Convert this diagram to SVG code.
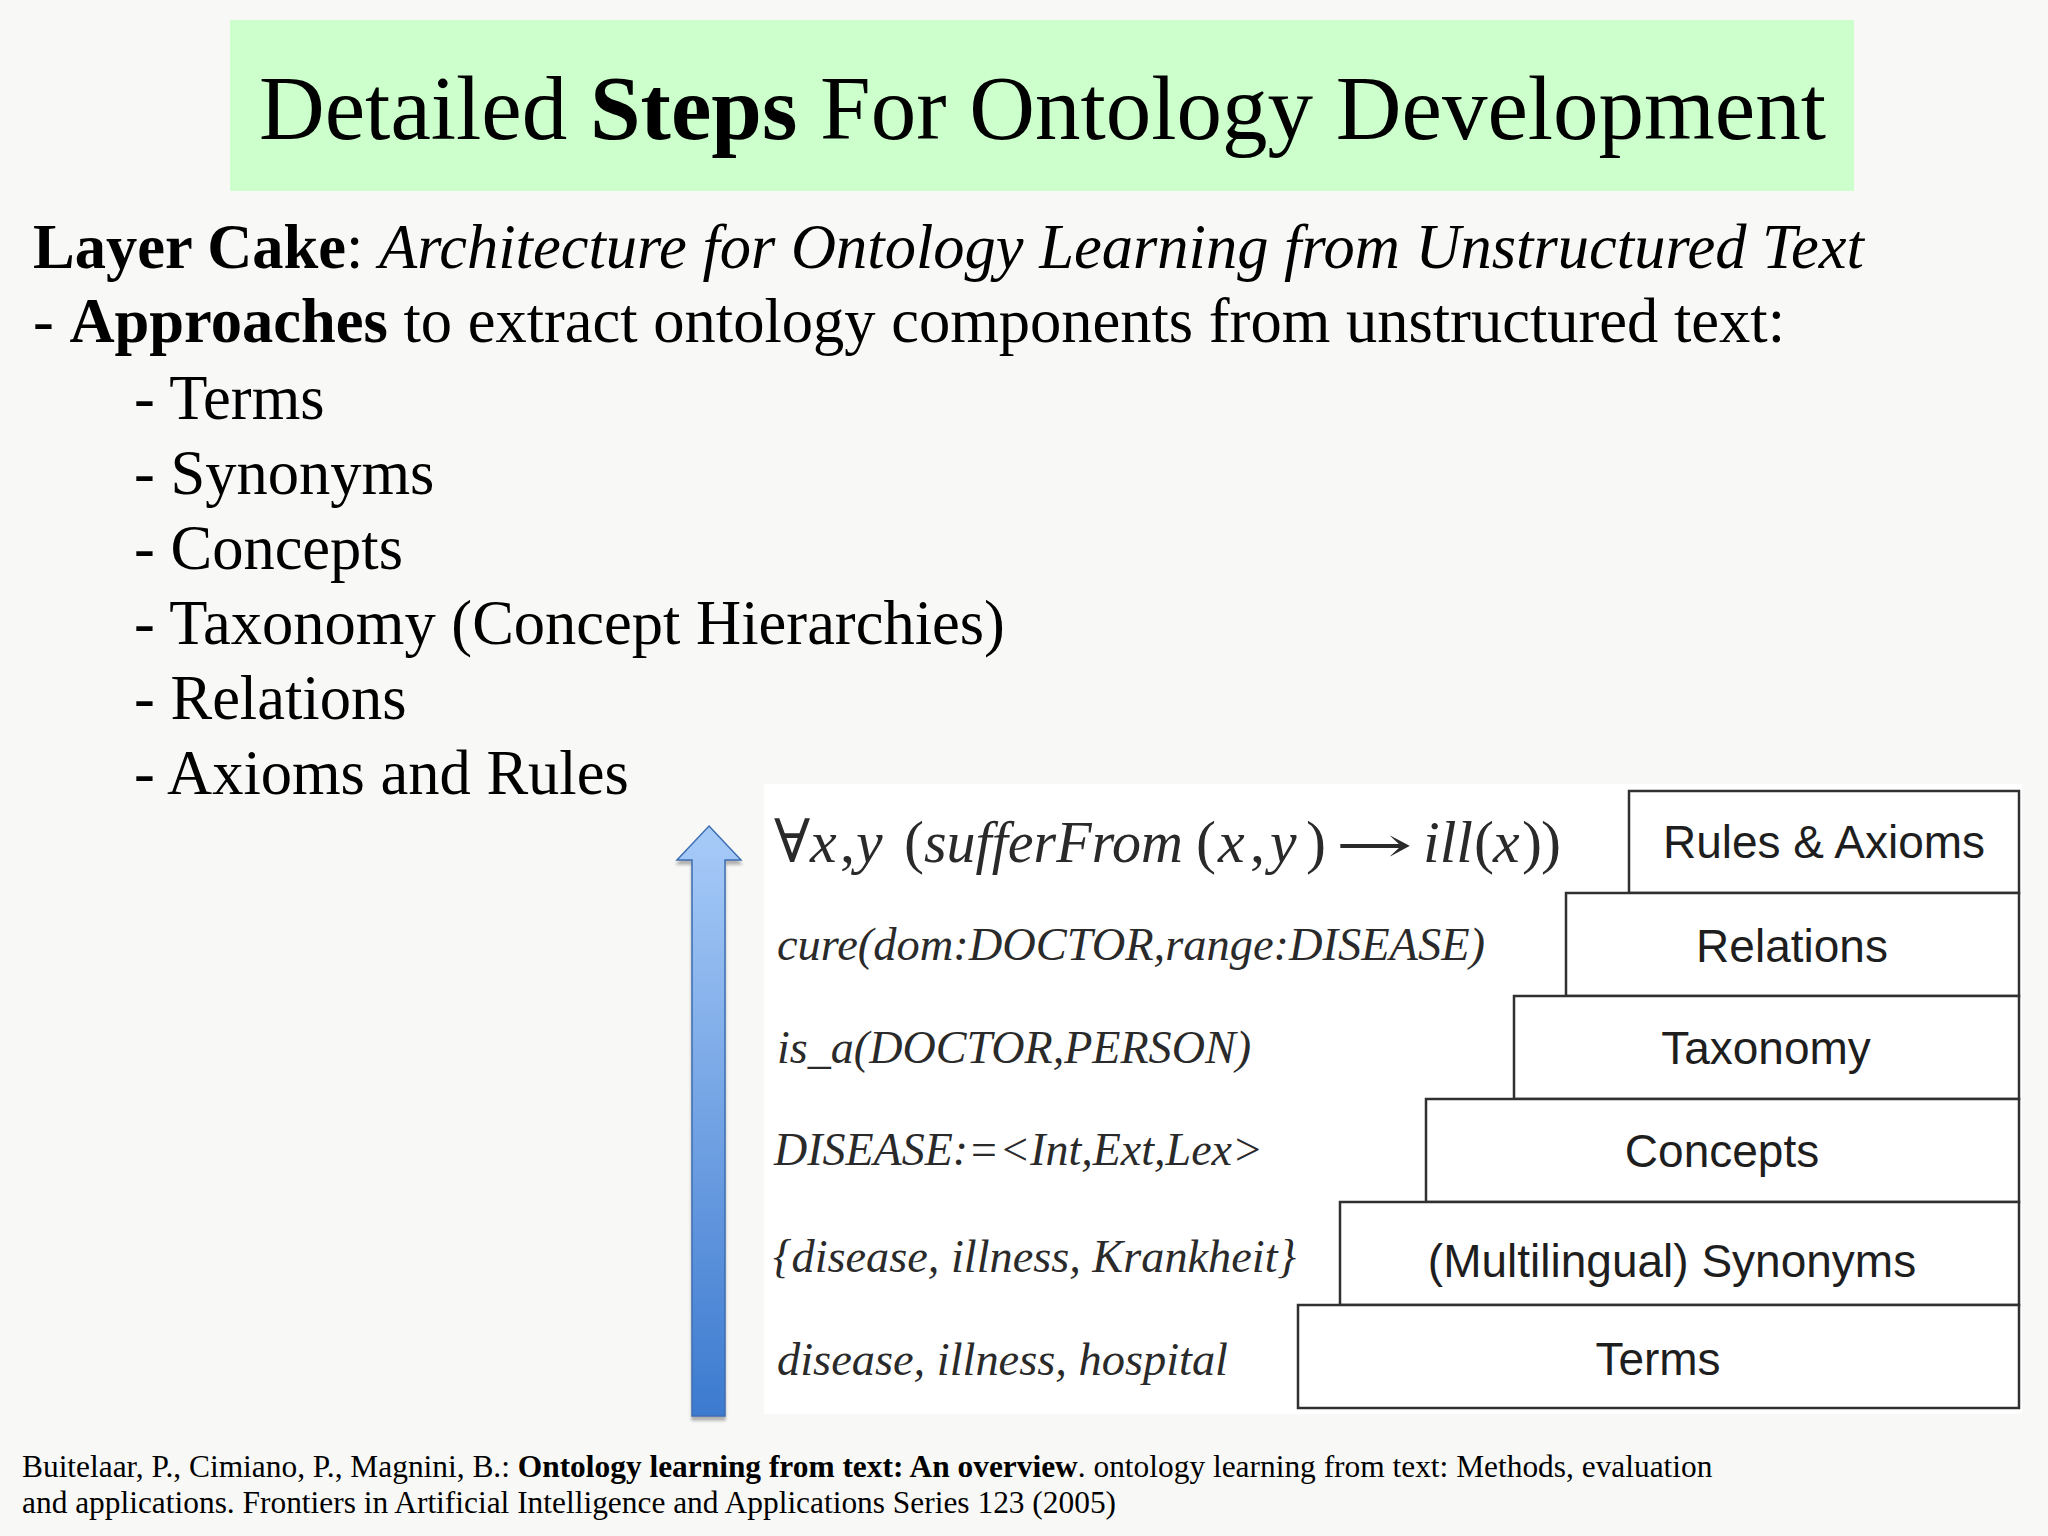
<svg xmlns="http://www.w3.org/2000/svg" width="2048" height="1536" viewBox="0 0 2048 1536">
<defs>
<linearGradient id="arrowGrad" x1="0" y1="0" x2="0" y2="1">
<stop offset="0" stop-color="#a8cbf8"/>
<stop offset="1" stop-color="#3c7acf"/>
</linearGradient>
<filter id="shadow" x="-30%" y="-5%" width="160%" height="110%">
<feDropShadow dx="0" dy="4" stdDeviation="1.5" flood-color="#808080" flood-opacity="0.6"/>
</filter>
</defs>
<style>
.serif{font-family:"Liberation Serif","Times New Roman",serif;fill:#000}
.body{font-size:62.5px}
.title{font-size:91px}
.foot{font-size:31.4px}
.b{font-weight:bold}
.i{font-style:italic}
.math{font-family:"Liberation Serif","DejaVu Serif",serif;fill:#2a2a2a;font-size:46px;font-style:italic}
.big{font-size:60px}
.mathr{font-style:normal}
.layer rect{fill:#ffffff;stroke:#303030;stroke-width:2.5}
.layer text{font-family:"Liberation Sans",Arial,sans-serif;font-size:46px;fill:#1e1e1e;text-anchor:middle}
</style>
<rect x="0" y="0" width="2048" height="1536" fill="#f8f9f6"/>
<g id="title">
<rect x="230" y="20" width="1624" height="171" fill="#ccffcc"/>
<text class="serif title" x="259" y="139">Detailed <tspan class="b">Steps</tspan> For Ontology Development</text>
</g>
<g id="intro">
<text class="serif body" x="33" y="268"><tspan class="b">Layer Cake</tspan>: <tspan class="i">Architecture for Ontology Learning from Unstructured Text</tspan></text>
<text class="serif body" x="33" y="342">- <tspan class="b">Approaches</tspan> to extract ontology components from unstructured text:</text>
<text class="serif body" x="134" y="419">- Terms</text>
<text class="serif body" x="134" y="494">- Synonyms</text>
<text class="serif body" x="134" y="569">- Concepts</text>
<text class="serif body" x="134" y="644">- Taxonomy (Concept Hierarchies)</text>
<text class="serif body" x="134" y="719">- Relations</text>
<text class="serif body" x="134" y="794">- Axioms and Rules</text>
</g>
<rect x="764" y="784" width="1258" height="630" fill="#ffffff"/>
<g id="connectors">
<polygon points="709,826 741,860 725,860 725,1416 692,1416 692,860 677,860" fill="url(#arrowGrad)" stroke="#3d6fb3" stroke-width="1.5" filter="url(#shadow)"/>
</g>
<g id="examples">
<text class="math big" y="862"><tspan class="mathr" x="774">∀</tspan><tspan x="810">x</tspan><tspan class="mathr" x="840">,</tspan><tspan x="856">y</tspan><tspan class="mathr" x="904">(</tspan><tspan x="1196" class="mathr">(</tspan><tspan x="1218">x</tspan><tspan class="mathr" x="1250">,</tspan><tspan x="1270">y</tspan><tspan class="mathr" x="1306">)</tspan><tspan x="1423">ill</tspan><tspan class="mathr" x="1474">(</tspan><tspan x="1493">x</tspan><tspan class="mathr" x="1522">)</tspan><tspan class="mathr" x="1541">)</tspan></text>
<text class="math big" x="924" y="862" textLength="259" lengthAdjust="spacingAndGlyphs">sufferFrom</text>
<text class="math" x="1335" y="862" textLength="78" lengthAdjust="spacingAndGlyphs" style="font-family:'DejaVu Serif',serif;font-style:normal;font-size:50px">→</text>
<text class="math" x="777" y="960" textLength="708" lengthAdjust="spacingAndGlyphs">cure(dom:DOCTOR,range:DISEASE)</text>
<text class="math" x="777" y="1063" textLength="474" lengthAdjust="spacingAndGlyphs">is_a(DOCTOR,PERSON)</text>
<text class="math" x="774" y="1165" textLength="489" lengthAdjust="spacingAndGlyphs">DISEASE:=&lt;Int,Ext,Lex&gt;</text>
<text class="math" x="773" y="1272" textLength="523" lengthAdjust="spacingAndGlyphs">{disease, illness, Krankheit}</text>
<text class="math" x="777" y="1375" textLength="451" lengthAdjust="spacingAndGlyphs">disease, illness, hospital</text>
</g>
<g id="layer-rules" class="layer">
<rect x="1629" y="791" width="390" height="102"/>
<text x="1824" y="858">Rules &amp; Axioms</text>
</g>
<g id="layer-relations" class="layer">
<rect x="1566" y="893" width="453" height="103"/>
<text x="1792" y="962">Relations</text>
</g>
<g id="layer-taxonomy" class="layer">
<rect x="1514" y="996" width="505" height="103"/>
<text x="1766" y="1064">Taxonomy</text>
</g>
<g id="layer-concepts" class="layer">
<rect x="1426" y="1099" width="593" height="103"/>
<text x="1722" y="1167">Concepts</text>
</g>
<g id="layer-synonyms" class="layer">
<rect x="1340" y="1202" width="679" height="103"/>
<text x="1672" y="1277">(Multilingual) Synonyms</text>
</g>
<g id="layer-terms" class="layer">
<rect x="1298" y="1305" width="721" height="103"/>
<text x="1658" y="1375">Terms</text>
</g>
<g id="footer">
<text class="serif foot" x="22" y="1477">Buitelaar, P., Cimiano, P., Magnini, B.: <tspan class="b">Ontology learning from text: An overview</tspan>. ontology learning from text: Methods, evaluation</text>
<text class="serif foot" x="22" y="1513">and applications. Frontiers in Artificial Intelligence and Applications Series 123 (2005)</text>
</g>
</svg>
